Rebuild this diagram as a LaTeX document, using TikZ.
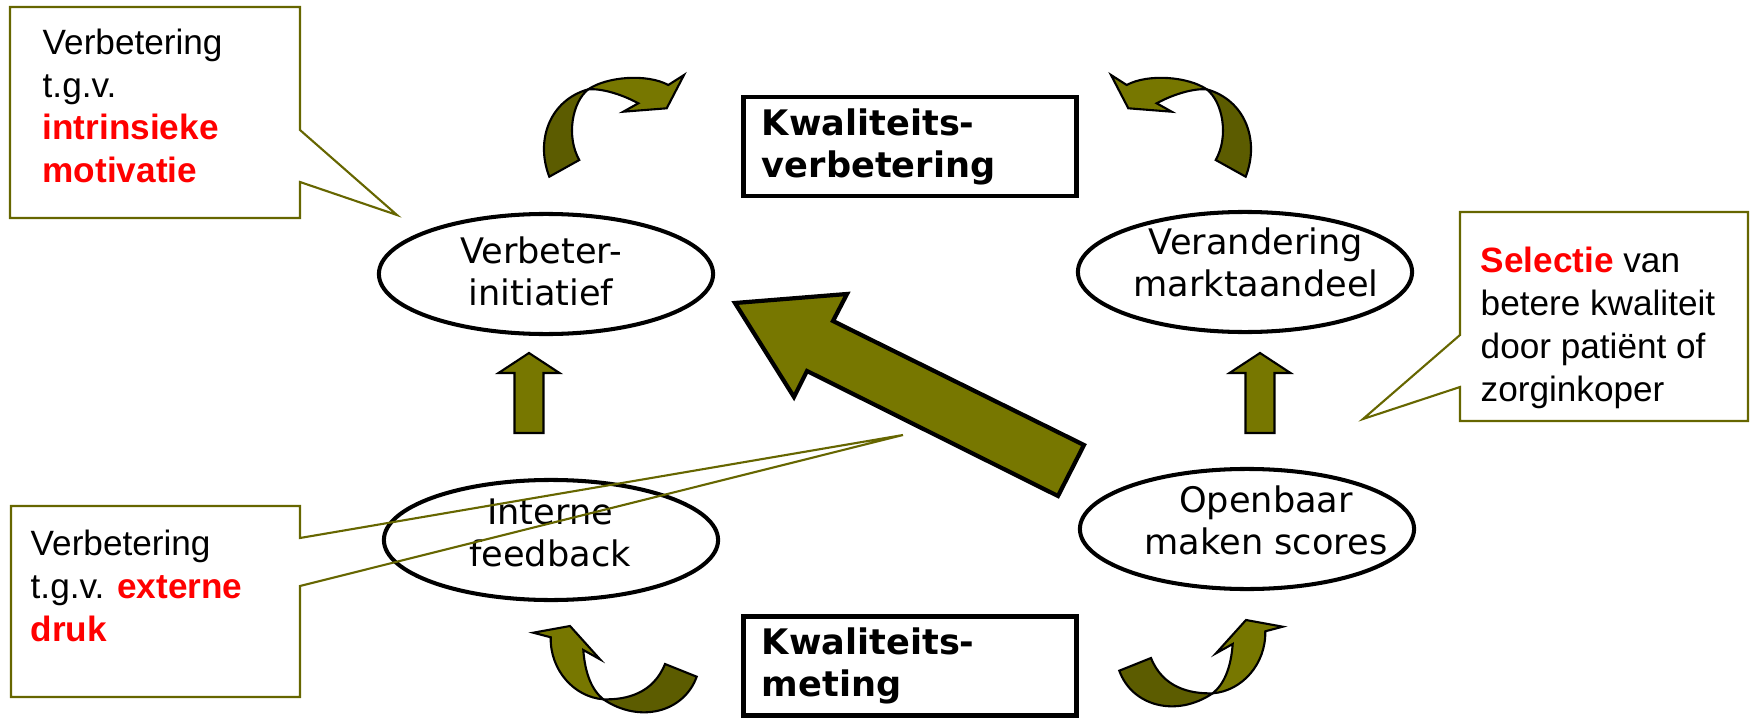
\documentclass[tikz,border=0pt]{standalone}
\usepackage{fontspec}
\setmainfont{Liberation Sans}
\newfontfamily\verdana{DejaVu Sans}
\usepackage{tikz}
\usetikzlibrary{shapes.geometric}

\definecolor{olijf}{RGB}{119,119,0}
\definecolor{olijfdonker}{RGB}{92,92,0}
\definecolor{lijn}{RGB}{102,102,0}
\newcommand{\rood}[1]{\textcolor{red}{\bfseries #1}}

% gedraaide pijl boven (links), onder (links)
\newcommand{\bochtboven}{%
    \draw[bochtdonker] (549.3,176.7) .. controls (535,140) and (550,100) .. (588.3,89.3)
        .. controls (572,102) and (566,136.7) .. (579.3,160) -- cycle;
    \draw[bochtlicht] (588.3,89.3) .. controls (606.7,76.7) and (646.7,73.3) .. (668.3,85)
        -- (684,75) -- (666.7,108.3) -- (623.3,111.7) -- (638.3,103.3)
        .. controls (620,93.3) and (600,88.3) .. (588.3,89.3) -- cycle;
}
\newcommand{\bochtonder}{%
    \draw[bochtdonker] (603.3,699.3) .. controls (640,724) and (684,712) .. (696.7,676.7)
        -- (665,664) .. controls (653.3,693.3) and (626.7,700) .. (603.3,699.3) -- cycle;
    \draw[bochtlicht] (603.3,699.3) .. controls (574,697) and (550,670) .. (550.7,637.3)
        -- (533.3,632.7) -- (570,626) -- (600,659.3) -- (583.3,650)
        .. controls (585,673.3) and (591.7,690) .. (603.3,699.3) -- cycle;
}

\begin{document}
\begin{tikzpicture}[x=0.01cm, y=-0.01cm,
    oval/.style={ellipse, draw, line width=1.15pt, minimum width=3.34cm,
        minimum height=1.2cm, inner sep=0pt},
    ovaltekst/.style={align=center, inner sep=0pt,
        font=\verdana\fontsize{10}{11.95}\selectfont},
    kader/.style={draw, line width=1.4pt, text width=2.96cm, align=left,
        inner xsep=0.18cm, inner ysep=0pt, minimum height=0.99cm,
        font=\verdana\bfseries\fontsize{10}{11.95}\selectfont},
    uitleg/.style={anchor=north west, inner sep=0pt, align=left,
        font=\fontsize{10}{12.2}\selectfont},
    wolk/.style={draw=lijn, line width=0.6pt, line join=miter},
    blokpijl/.style={fill=olijf, draw=black, line width=0.6pt},
    grotepijl/.style={fill=olijf, draw=black, line width=1.2pt, line join=miter},
    bochtlicht/.style={fill=olijf, draw=black, line width=0.6pt},
    bochtdonker/.style={fill=olijfdonker, draw=black, line width=0.6pt}]
    \useasboundingbox (0,0) rectangle (1750,721);

    % cyclus-pijlen
    \bochtboven
    \begin{scope}[shift={(1795,0)}, xscale=-1]
        \bochtboven
    \end{scope}
    \bochtonder
    \begin{scope}[shift={(1816,-6)}, xscale=-1]
        \bochtonder
    \end{scope}

    \node[kader] (verbetering) at (910,146.5) {Kwaliteits-\\verbetering};
    \node[kader] (meting) at (910,666) {Kwaliteits-\\meting};

    \node[oval] (initiatief) at (546,274) {};
    \node[oval] (marktaandeel) at (1245,272) {};
    \node[oval] (feedback) at (551,540) {};
    \node[oval] (scores) at (1247,529) {};
    \node[ovaltekst] (initiatief-t) at (541,271) {Verbeter-\\initiatief};
    \node[ovaltekst] (marktaandeel-t) at (1256,262) {Verandering\\marktaandeel};
    \node[ovaltekst] (feedback-t) at (550,533) {Interne\\feedback};
    \node[ovaltekst] (scores-t) at (1266,520) {Openbaar\\maken scores};

    \foreach \x in {529,1260}
        \draw[blokpijl] (\x,353) -- (\x+30.5,373) -- (\x+14.5,373) -- (\x+14.5,433)
            -- (\x-14.5,433) -- (\x-14.5,373) -- (\x-30.5,373) -- cycle;

    \draw[grotepijl] (735,303) -- (847,294) -- (833,321) -- (1084,445)
        -- (1058,496) -- (807,371) -- (794,397) -- cycle;

    % toelichtingen
    \draw[wolk] (10,7) -- (300,7) -- (300,130) -- (397,215) -- (300,182)
        -- (300,218) -- (10,218) -- cycle;
    \node[uitleg] (intrinsiek) at (42,28) {Verbetering\\t.g.v.\\\rood{intrinsieke}\\\rood{motivatie}};

    \draw[wolk] (11,506) -- (300,506) -- (300,538) -- (903,435) -- (300,586)
        -- (300,697) -- (11,697) -- cycle;
    \node[uitleg] (extern) at (30,529.5) {Verbetering\\t.g.v. \rood{externe}\\\rood{druk}};

    \draw[wolk] (1460,212) -- (1748,212) -- (1748,421) -- (1460,421) -- (1460,387)
        -- (1363,419) -- (1460,335) -- cycle;
    \node[uitleg] (selectie) at (1480,246.5) {\rood{Selectie} van\\betere kwaliteit\\door patiënt of\\zorginkoper};
\end{tikzpicture}
\end{document}
